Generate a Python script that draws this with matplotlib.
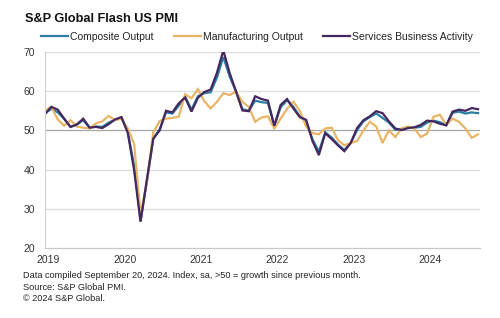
import matplotlib
matplotlib.use("Agg")
import matplotlib.pyplot as plt
import numpy as np

plt.rcParams['font.family'] = ['Liberation Sans', 'DejaVu Sans']

# Monthly, Jan 2019 .. Sep 2024
months = [f"{y}-{m:02d}" for y in range(2019, 2025) for m in range(1, 13)][:69]

composite = [
    54.4, 55.5, 54.6, 53.0, 50.9, 51.5, 52.6, 50.7, 51.0, 50.9, 52.0, 52.7,   # 2019
    53.3, 49.6, 40.9, 27.0, 37.0, 47.9, 50.3, 54.6, 54.3, 56.3, 58.6, 55.3,   # 2020
    58.7, 59.5, 59.7, 63.5, 68.7, 63.7, 59.9, 55.4, 55.0, 57.6, 57.2, 57.0,   # 2021
    51.1, 55.9, 57.7, 56.0, 53.6, 52.3, 47.7, 44.6, 49.5, 48.2, 46.4, 45.0,   # 2022
    46.8, 50.1, 52.3, 53.4, 54.3, 53.2, 52.0, 50.2, 50.2, 50.7, 50.7, 50.9,   # 2023
    52.0, 52.5, 52.1, 51.3, 54.5, 54.8, 54.3, 54.6, 54.4,                     # 2024
]

manufacturing = [
    55.0, 56.0, 52.8, 51.2, 52.6, 51.0, 50.7, 50.5, 51.8, 52.3, 53.7, 52.6,   # 2019
    53.0, 50.5, 46.5, 28.5, 37.0, 49.5, 52.4, 53.0, 53.2, 53.5, 59.2, 58.2,   # 2020
    60.5, 57.5, 55.6, 57.3, 59.5, 59.0, 59.9, 57.3, 56.0, 52.2, 53.3, 53.6,   # 2021
    50.5, 53.0, 55.5, 57.3, 55.0, 51.0, 49.3, 49.0, 50.5, 50.7, 47.5, 46.2,   # 2022
    46.8, 47.3, 50.0, 52.2, 51.0, 46.8, 50.0, 48.3, 50.5, 51.0, 50.5, 48.3,   # 2023
    49.2, 53.5, 54.0, 51.4, 53.0, 52.2, 50.5, 48.1, 49.0,                     # 2024
]

services = [
    54.2, 56.0, 55.3, 53.0, 50.9, 51.5, 53.0, 50.7, 50.9, 50.6, 51.6, 52.8,   # 2019
    53.4, 49.4, 39.8, 26.7, 37.5, 47.9, 50.0, 55.0, 54.6, 56.9, 58.4, 54.8,   # 2020
    58.3, 59.8, 60.4, 64.7, 70.4, 64.6, 59.9, 55.1, 54.9, 58.7, 58.0, 57.6,   # 2021
    51.2, 56.5, 58.0, 55.6, 53.4, 52.7, 47.3, 43.7, 49.3, 47.8, 46.2, 44.7,   # 2022
    46.8, 50.6, 52.6, 53.6, 54.9, 54.4, 52.3, 50.5, 50.1, 50.6, 50.8, 51.4,   # 2023
    52.5, 52.3, 51.7, 51.3, 54.8, 55.3, 55.0, 55.7, 55.4,                     # 2024
]

year_labels = ["2019", "2020", "2021", "2022", "2023", "2024"]
y_ticks = [20, 30, 40, 50, 60, 70]
series_names = ["Composite Output", "Manufacturing Output", "Services Business Activity"]
colors = ["#2a80a0", "#e8b566", "#45275f"]

fig = plt.figure(figsize=(5.0, 3.18), dpi=100)
ax = fig.add_axes([0.09, 0.22, 0.87, 0.6165])

x = np.arange(len(months))
for vals, name, col in zip([composite, manufacturing, services], series_names, colors):
    ax.plot(x, vals, color=col, lw=1.6, label=name, solid_joinstyle='miter')

ax.set_xlim(0, 68.3)
ax.set_ylim(20, 70)
ax.set_yticks(y_ticks)
ax.set_yticklabels([str(v) for v in y_ticks])
ax.set_xticks([12 * i + 0.5 for i in range(len(year_labels))])
ax.set_xticklabels(year_labels)
ax.tick_params(length=0, labelsize=7.5, colors="#333333")
ax.tick_params(axis='x', pad=5)
ax.tick_params(axis='y', pad=7)

for v in y_ticks:
    if v == 20:
        continue
    ax.axhline(v, color="#a6a6a6" if v == 50 else "#dcdcdc", lw=0.9, zorder=0)

for s in ["top", "right"]:
    ax.spines[s].set_visible(False)
ax.spines["left"].set_color("#d0d0d0")
ax.spines["bottom"].set_color("#c8c8c8")
ax.spines["left"].set_linewidth(0.8)
ax.spines["bottom"].set_linewidth(0.9)

fig.text(25 / 500, 1 - 19 / 318, "S&P Global Flash US PMI", fontsize=9.2, fontweight="bold",
         color="#111111", va="center", ha="left")

leg = fig.legend(loc="center left", bbox_to_anchor=(41 / 500, 1 - 37 / 318), ncol=3,
                 frameon=False, fontsize=7.5, handlelength=2.6, handletextpad=0.15,
                 columnspacing=2.0, borderaxespad=0, borderpad=0)
for t in leg.get_texts():
    t.set_color("#222222")

foot = ["Data compiled September 20, 2024. Index, sa, >50 = growth since previous month.",
        "Source: S&P Global PMI.",
        "\u00a9 2024 S&P Global."]
for i, line in enumerate(foot):
    fig.text(23 / 500, 1 - (276 + 11.3 * i) / 318, line, fontsize=6.6, color="#222222",
             va="center", ha="left")

fig.savefig("out.png", dpi=100, facecolor="white")
